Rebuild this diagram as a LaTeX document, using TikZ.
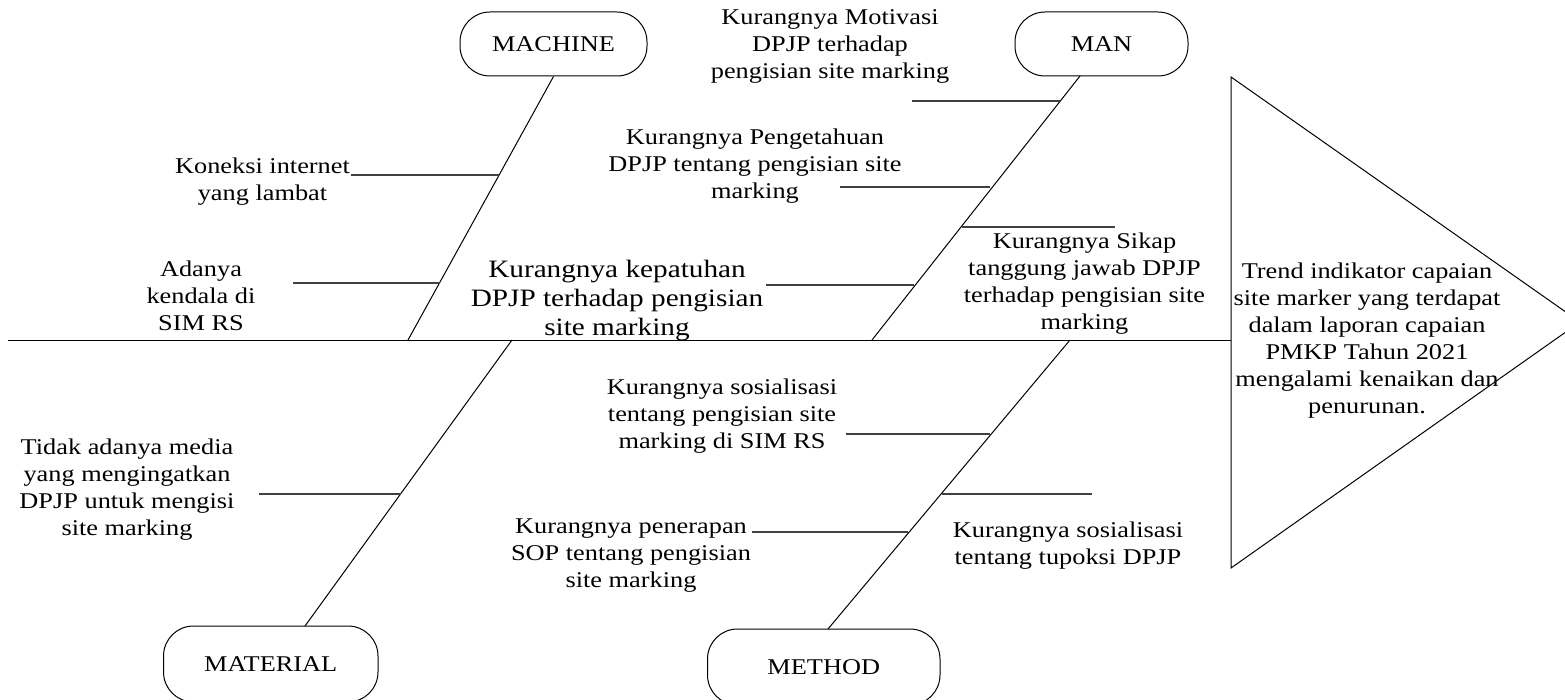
\documentclass[tikz,border=0pt]{standalone}
\usepackage{fontspec}
\setmainfont{Liberation Serif}[FakeStretch=1.17]
\begin{document}
\begin{tikzpicture}[x=1pt,y=-1pt,
  txt/.style={inner sep=0pt, align=center, font=\fontsize{22.5}{27}\selectfont},
  bigtxt/.style={inner sep=0pt, align=center, font=\fontsize{25}{29}\selectfont},
  cat/.style={draw, line width=1pt, rounded corners=30pt, inner sep=0pt, font=\fontsize{22.5}{27}\selectfont},
  bone/.style={line width=1pt},
  subbone/.style={line width=1.6pt, draw=black!75}]
\useasboundingbox (0,0) rectangle (1565,700);
\clip (0,0) rectangle (1565,700);

% category boxes
\node[cat, minimum width=187pt, minimum height=64pt] (machine) at (553.5,44) {MACHINE};
\node[cat, minimum width=173pt, minimum height=64pt] (man) at (1101.5,44) {MAN};
\node[cat, minimum width=214.5pt, minimum height=76pt] (material) at (270.75,664) {MATERIAL};
\node[cat, minimum width=232.5pt, minimum height=76pt] (method) at (823.75,667) {METHOD};

% head triangle
\coordinate (t1) at (1231,77);
\coordinate (t2) at (1580,322);
\coordinate (t3) at (1231,568);
\draw[bone] (t1) -- (t2) -- (t3) -- cycle;

% spine
\coordinate (tail) at (8,340);
\coordinate (head) at (1231,340);
\draw[bone] (tail) -- (head);

% main bones
\coordinate (mcfoot) at (408,340);
\coordinate (mantop) at (1080,76);
\coordinate (manfoot) at (872,340);
\coordinate (matroot) at (512,340);
\coordinate (mattop) at (305,626);
\coordinate (methroot) at (1070,340);
\coordinate (methtop) at (828,629);
\draw[bone] (machine.south) -- (mcfoot);
\draw[bone] (mantop) -- (manfoot);
\draw[bone] (matroot) -- (mattop);
\draw[bone] (methroot) -- (methtop);

% sub bones
\coordinate (k1) at (351,175);  \coordinate (k2) at (499,175);
\coordinate (a1) at (293,283);  \coordinate (a2) at (440,283);
\coordinate (mo1) at (912,101); \coordinate (mo2) at (1060,101);
\coordinate (p1) at (840,187);  \coordinate (p2) at (990,187);
\coordinate (s1) at (962,227);  \coordinate (s2) at (1115,227);
\coordinate (kp1) at (766,285); \coordinate (kp2) at (914,285);
\coordinate (ma1) at (259,494); \coordinate (ma2) at (401,494);
\coordinate (si1) at (846,434); \coordinate (si2) at (990,434);
\coordinate (tu1) at (942,494); \coordinate (tu2) at (1092,494);
\coordinate (pe1) at (752,532); \coordinate (pe2) at (908,532);
\draw[subbone] (k1) -- (k2);
\draw[subbone] (a1) -- (a2);
\draw[subbone] (mo1) -- (mo2);
\draw[subbone] (p1) -- (p2);
\draw[subbone] (s1) -- (s2);
\draw[subbone] (kp1) -- (kp2);
\draw[subbone] (ma1) -- (ma2);
\draw[subbone] (si1) -- (si2);
\draw[subbone] (tu1) -- (tu2);
\draw[subbone] (pe1) -- (pe2);

% texts
\node[txt] (koneksi) at (262.5,181.5) {Koneksi internet\\yang lambat};
\node[txt] (adanya) at (201,296) {Adanya\\kendala di\\SIM RS};
\node[bigtxt] (kepatuhan) at (617,301) {Kurangnya kepatuhan\\DPJP terhadap pengisian\\site marking};
\node[txt] (motivasi) at (830,46.5) {Kurangnya Motivasi\\DPJP terhadap\\pengisian site marking};
\node[txt] (pengetahuan) at (755,166.5) {Kurangnya Pengetahuan\\DPJP tentang pengisian site\\marking};
\node[txt] (sikap) at (1084.5,284) {Kurangnya Sikap\\tanggung jawab DPJP\\terhadap pengisian site\\marking};
\node[txt] (trend) at (1367,340.5) {Trend indikator capaian\\site marker yang terdapat\\dalam laporan capaian\\PMKP Tahun 2021\\mengalami kenaikan dan\\penurunan.};
\node[txt] (tidak) at (127,489.5) {Tidak adanya media\\yang mengingatkan\\DPJP untuk mengisi\\site marking};
\node[txt] (simrs) at (722,416.5) {Kurangnya sosialisasi\\tentang pengisian site\\marking di SIM RS};
\node[txt] (penerapan) at (631,556) {Kurangnya penerapan\\SOP tentang pengisian\\site marking};
\node[txt] (tupoksi) at (1068,545.5) {Kurangnya sosialisasi\\tentang tupoksi DPJP};
\end{tikzpicture}
\end{document}
